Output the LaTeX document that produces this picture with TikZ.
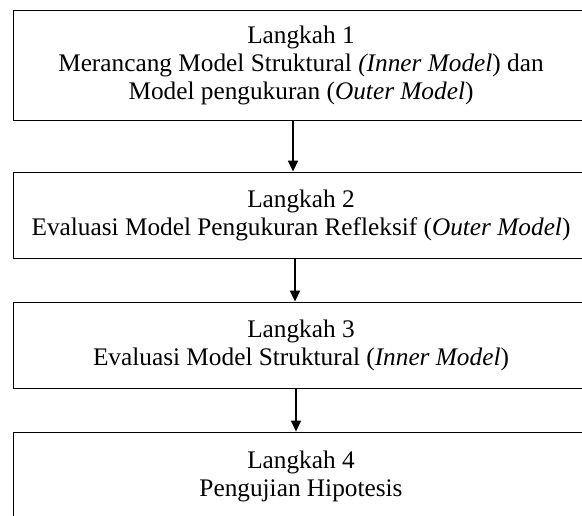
\documentclass[tikz,border=0pt]{standalone}
\usepackage{fontspec}
\setmainfont{Liberation Serif}
\usetikzlibrary{arrows.meta}

\begin{document}
\begin{tikzpicture}[x=1pt,y=-1pt,
    stepbox/.style={draw, line width=0.8pt, minimum width=576pt, inner sep=0pt,
      align=center, font=\fontsize{25.3}{28}\selectfont},
    flow/.style={line width=1.4pt, -{Triangle[width=10pt,length=11pt]}}]

    \useasboundingbox (0,0) rectangle (582,515);
    \clip (0,0) rectangle (582,515);

    % boxes (steps)
    \node[stepbox, minimum height=110pt] (langkah1) at (301,65)
      {Langkah 1\\Merancang Model Struktural \textit{(Inner Model}) dan\\Model pengukuran (\textit{Outer Model})};
    \node[stepbox, minimum height=86pt] (langkah2) at (301,215)
      {Langkah 2\\Evaluasi Model Pengukuran Refleksif (\textit{Outer Model})};
    \node[stepbox, minimum height=86pt] (langkah3) at (301,345)
      {Langkah 3\\Evaluasi Model Struktural (\textit{Inner Model})};
    \node[stepbox, minimum height=88pt] (langkah4) at (301,476)
      {Langkah 4\\Pengujian Hipotesis};

    % arrows
    \draw[flow] ([xshift=-8pt]langkah1.south) -- ([xshift=-8pt]langkah2.north); % 1 -> 2
    \draw[flow] ([xshift=-6pt]langkah2.south) -- ([xshift=-6pt]langkah3.north); % 2 -> 3
    \draw[flow] ([xshift=-5pt]langkah3.south) -- ([xshift=-5pt]langkah4.north); % 3 -> 4

\end{tikzpicture}
\end{document}
